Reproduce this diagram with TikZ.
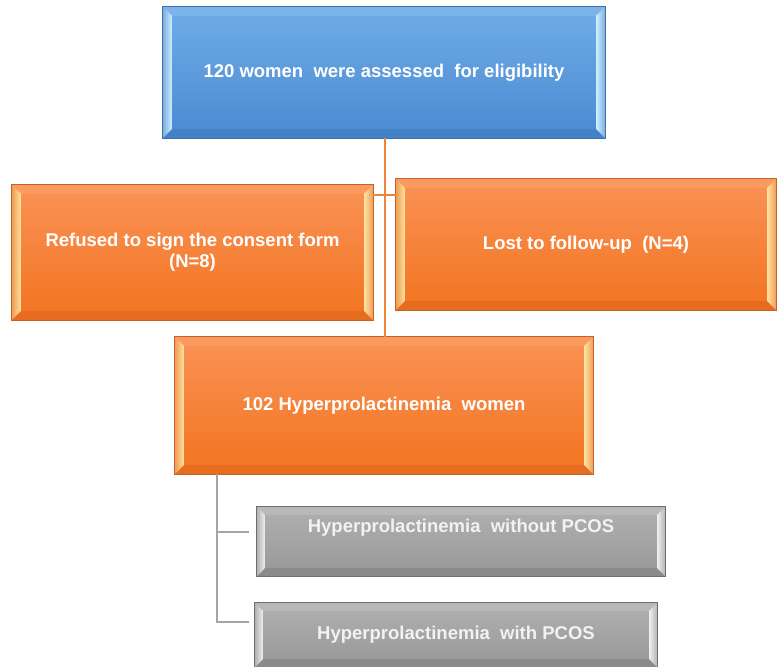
\documentclass[tikz,border=0pt]{standalone}
\usepackage{fontspec}
\setmainfont{Liberation Sans}
\definecolor{bT}{RGB}{112,172,232}
\definecolor{bB}{RGB}{74,138,208}
\definecolor{bD}{RGB}{62,112,172}
\definecolor{bL}{RGB}{205,238,255}
\definecolor{bTop}{RGB}{122,180,234}
\definecolor{bBot}{RGB}{68,130,200}
\definecolor{oT}{RGB}{250,146,86}
\definecolor{oB}{RGB}{242,116,32}
\definecolor{oD}{RGB}{196,98,40}
\definecolor{oL}{RGB}{255,226,160}
\definecolor{oTop}{RGB}{251,154,96}
\definecolor{oBot}{RGB}{230,108,32}
\definecolor{gT}{RGB}{176,176,176}
\definecolor{gB}{RGB}{152,152,152}
\definecolor{gD}{RGB}{110,110,110}
\definecolor{gL}{RGB}{238,238,238}
\definecolor{gTop}{RGB}{184,184,184}
\definecolor{gBot}{RGB}{138,138,138}
\definecolor{oLine}{RGB}{240,130,60}
\definecolor{gLine}{RGB}{165,165,165}
\definecolor{gTxt}{RGB}{242,242,242}
\newcommand\bevelbox[6]{%
  \fill[#4] (#1.north west) -- (#1.north east) -- ([shift={(-#2,-#2)}]#1.north east) -- ([shift={(#2,-#2)}]#1.north west) -- cycle;
  \fill[#5] (#1.south west) -- (#1.south east) -- ([shift={(-#2,#2)}]#1.south east) -- ([shift={(#2,#2)}]#1.south west) -- cycle;
  \shade[left color=#5!60!#3, right color=#3] (#1.north west) -- ([shift={(#2,-#2)}]#1.north west) -- ([shift={(#2,#2)}]#1.south west) -- (#1.south west) -- cycle;
  \shade[left color=#3, right color=#5!60!#3] (#1.north east) -- ([shift={(-#2,-#2)}]#1.north east) -- ([shift={(-#2,#2)}]#1.south east) -- (#1.south east) -- cycle;
  \draw[#6, line width=0.8pt] (#1.north west) rectangle (#1.south east);
}
\begin{document}
\begin{tikzpicture}[x=1pt,y=1pt,
  box/.style={rectangle, inner sep=0pt, text=white, align=center,
    font=\bfseries\fontsize{18.5}{21}\selectfont},
  bluebox/.style={box, top color=bT, bottom color=bB},
  orangebox/.style={box, top color=oT, bottom color=oB},
  graybox/.style={box, top color=gT, bottom color=gB, text=gTxt},
  oconn/.style={draw=oLine, line width=1.6pt},
  gconn/.style={draw=gLine, line width=1.6pt}]
\useasboundingbox (0,0) rectangle (777,667);
\coordinate (vtop) at (385,529);
\node[bluebox, minimum width=442, minimum height=131] (top) at (384,594.5) {120 women\ \ were assessed\ \ for eligibility};
\node[orangebox, minimum width=361, minimum height=135] (left) at (192.5,414.5) {Refused to sign the consent form\\(N=8)};
\node[orangebox, minimum width=380, minimum height=131] (right) at (586,422.5) {Lost to follow-up\ \ (N=4)};
\node[orangebox, minimum width=418, minimum height=137] (mid) at (384,261.5) {102 Hyperprolactinemia\ \ women};
\node[graybox, minimum width=408, minimum height=69,
  label={[text=gTxt, font=\bfseries\fontsize{18.5}{21}\selectfont, yshift=13.5pt]center:Hyperprolactinemia\ \ without PCOS}] (g1) at (461,125.5) {};
\node[graybox, minimum width=402, minimum height=64] (g2) at (456,32) {Hyperprolactinemia\ \ with PCOS};
\bevelbox{top}{9}{bL}{bTop}{bBot}{bD}
\bevelbox{left}{9}{oL}{oTop}{oBot}{oD}
\bevelbox{right}{9}{oL}{oTop}{oBot}{oD}
\bevelbox{mid}{9}{oL}{oTop}{oBot}{oD}
\bevelbox{g1}{8}{gL}{gTop}{gBot}{gD}
\bevelbox{g2}{8}{gL}{gTop}{gBot}{gD}
% connectors
\draw[oconn] (top.south -| vtop) -- (mid.north -| vtop);
\coordinate (j1) at ([yshift=-10pt]left.north east);
\draw[oconn] (j1) -- (j1 -| right.west);
\coordinate (gv) at ([xshift=42pt]mid.south west);
\coordinate (ga) at (249,135);
\coordinate (gb) at (249,45);
\draw[gconn] (gv) |- (gb);
\draw[gconn] (gv |- ga) -- (ga);
\end{tikzpicture}
\end{document}
